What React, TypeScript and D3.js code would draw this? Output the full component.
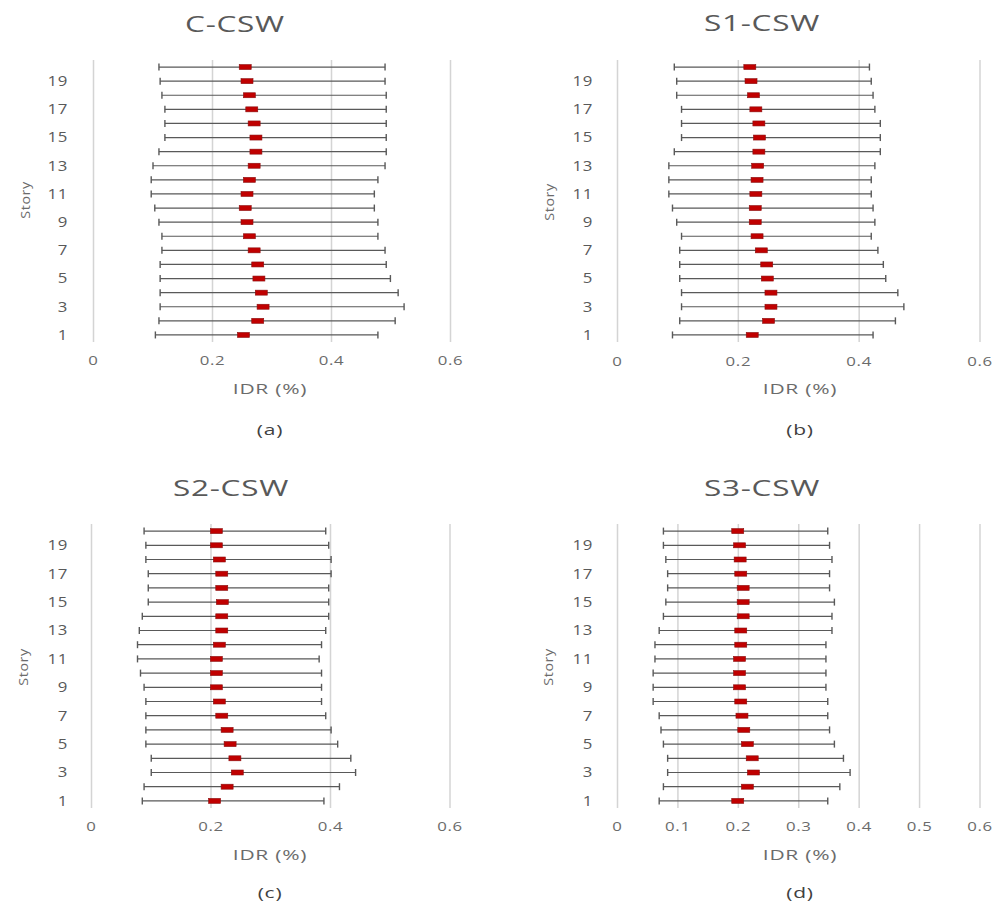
import React, { useEffect, useRef } from 'react';
import * as d3 from 'd3';

const stories = d3.range(1, 21);
const storyLabels = [1, 3, 5, 7, 9, 11, 13, 15, 17, 19];
const ticksCoarse = [0, 0.2, 0.4, 0.6];
const ticksFine = [0, 0.1, 0.2, 0.3, 0.4, 0.5, 0.6];

// values listed from story 1 up to story 20
const cMin = [0.104, 0.11, 0.112, 0.112, 0.112, 0.112, 0.115, 0.115, 0.11, 0.103, 0.097, 0.097, 0.1, 0.11, 0.12, 0.12, 0.12, 0.115, 0.112, 0.11];
const cMax = [0.478, 0.507, 0.522, 0.512, 0.499, 0.492, 0.49, 0.478, 0.478, 0.472, 0.472, 0.478, 0.49, 0.492, 0.492, 0.492, 0.492, 0.492, 0.49, 0.49];
const cMean = [0.252, 0.276, 0.285, 0.282, 0.278, 0.276, 0.27, 0.262, 0.258, 0.255, 0.258, 0.262, 0.27, 0.273, 0.273, 0.27, 0.266, 0.262, 0.258, 0.255];

const s1Min = [0.091, 0.103, 0.106, 0.106, 0.103, 0.103, 0.103, 0.106, 0.098, 0.091, 0.085, 0.085, 0.085, 0.094, 0.106, 0.106, 0.106, 0.098, 0.098, 0.094];
const s1Max = [0.423, 0.46, 0.474, 0.464, 0.444, 0.44, 0.431, 0.42, 0.426, 0.423, 0.42, 0.42, 0.426, 0.435, 0.435, 0.435, 0.426, 0.423, 0.42, 0.417];
const s1Mean = [0.223, 0.25, 0.254, 0.254, 0.248, 0.247, 0.238, 0.231, 0.228, 0.228, 0.229, 0.231, 0.232, 0.234, 0.235, 0.234, 0.229, 0.225, 0.221, 0.219];

const s2Min = [0.085, 0.088, 0.1, 0.1, 0.091, 0.091, 0.091, 0.091, 0.088, 0.082, 0.077, 0.077, 0.08, 0.085, 0.095, 0.095, 0.095, 0.091, 0.091, 0.088];
const s2Max = [0.389, 0.415, 0.442, 0.434, 0.412, 0.401, 0.392, 0.385, 0.385, 0.385, 0.381, 0.385, 0.392, 0.397, 0.397, 0.397, 0.401, 0.401, 0.397, 0.392];
const s2Mean = [0.206, 0.227, 0.244, 0.24, 0.232, 0.227, 0.218, 0.214, 0.209, 0.209, 0.209, 0.214, 0.218, 0.218, 0.219, 0.218, 0.218, 0.214, 0.209, 0.209];

const s3Min = [0.069, 0.076, 0.083, 0.083, 0.076, 0.072, 0.069, 0.059, 0.059, 0.059, 0.062, 0.062, 0.069, 0.076, 0.08, 0.083, 0.083, 0.08, 0.076, 0.076];
const s3Max = [0.348, 0.368, 0.385, 0.374, 0.359, 0.351, 0.348, 0.348, 0.345, 0.345, 0.345, 0.345, 0.355, 0.355, 0.359, 0.351, 0.351, 0.355, 0.351, 0.348];
const s3Mean = [0.199, 0.215, 0.225, 0.223, 0.215, 0.209, 0.206, 0.204, 0.202, 0.202, 0.202, 0.204, 0.204, 0.208, 0.208, 0.208, 0.204, 0.203, 0.202, 0.199];

const panels = [
  { title: 'C-CSW', tag: '(a)', min: cMin, max: cMax, mean: cMean, ticks: ticksCoarse,
    x0: 93.5, x1: 450.5, top: 60, bottom: 342, titleX: 235, titleY: 25, labX: 270, storyX: 25, storyY: 200, tickY: 361, idrY: 389, tagY: 430, yLabX: 68 },
  { title: 'S1-CSW', tag: '(b)', min: s1Min, max: s1Max, mean: s1Mean, ticks: ticksCoarse,
    x0: 617.5, x1: 980, top: 60, bottom: 342, titleX: 762, titleY: 24, labX: 800, storyX: 549, storyY: 202, tickY: 362, idrY: 389, tagY: 430, yLabX: 593 },
  { title: 'S2-CSW', tag: '(c)', min: s2Min, max: s2Max, mean: s2Mean, ticks: ticksCoarse,
    x0: 91.5, x1: 450, top: 524, bottom: 808, titleX: 231, titleY: 489, labX: 270, storyX: 23, storyY: 667, tickY: 827, idrY: 855, tagY: 893, yLabX: 68 },
  { title: 'S3-CSW', tag: '(d)', min: s3Min, max: s3Max, mean: s3Mean, ticks: ticksFine,
    x0: 617.5, x1: 980, top: 524, bottom: 808, titleX: 762, titleY: 489, labX: 800, storyX: 548, storyY: 667, tickY: 827, idrY: 855, tagY: 893, yLabX: 593 },
];

const font = '"Open Sans", "DejaVu Sans", sans-serif';

// text placed at (x,y), stretched horizontally like the scanned figure
function label(g: any, x: number, y: number, txt: string, size: number, sx: number, color: string, anchor = 'middle', rot = 0) {
  g.append('text')
    .attr('transform', `translate(${x},${y}) rotate(${rot}) scale(${sx},1)`)
    .attr('dy', '0.35em')
    .attr('text-anchor', anchor)
    .style('font-family', font)
    .style('font-size', `${size}px`)
    .style('letter-spacing', '0.5px')
    .style('fill', color)
    .text(txt);
}

export default function App() {
  const ref = useRef<SVGSVGElement>(null);

  useEffect(() => {
    const svg = d3.select(ref.current);
    svg.selectAll('*').remove();

    panels.forEach((p) => {
      const g = svg.append('g');
      const x = d3.scaleLinear().domain([0, 0.6]).range([p.x0, p.x1]);
      const y = d3.scaleBand<number>()
        .domain(stories.slice().reverse())
        .range([p.top, p.bottom]);
      const cy = (s: number) => (y(s) as number) + y.bandwidth() / 2;

      // vertical gridlines
      g.selectAll('.grid')
        .data(p.ticks)
        .enter().append('line')
        .attr('x1', (d) => x(d)).attr('x2', (d) => x(d))
        .attr('y1', p.top).attr('y2', p.bottom)
        .attr('stroke', '#d4d4d4')
        .attr('stroke-width', 1.5);

      p.ticks.forEach((t) => {
        label(g, x(t), p.tickY, t === 0 ? '0' : d3.format('.1f')(t), 12, 1.4, '#6b6b6b');
      });

      storyLabels.forEach((s) => {
        label(g, p.yLabX, cy(s), String(s), 14, 1.2, '#595959', 'end');
      });

      // whiskers
      const rows = stories.map((s, i) => ({ s, lo: p.min[i], hi: p.max[i], m: p.mean[i] }));
      const row = g.selectAll('.row')
        .data(rows)
        .enter().append('g');

      row.append('line')
        .attr('x1', (d) => x(d.lo)).attr('x2', (d) => x(d.hi))
        .attr('y1', (d) => cy(d.s)).attr('y2', (d) => cy(d.s))
        .attr('stroke', '#595959')
        .attr('stroke-width', 1.2);
      row.append('line')
        .attr('x1', (d) => x(d.lo)).attr('x2', (d) => x(d.lo))
        .attr('y1', (d) => cy(d.s) - 3.5).attr('y2', (d) => cy(d.s) + 3.5)
        .attr('stroke', '#595959')
        .attr('stroke-width', 1.4);
      row.append('line')
        .attr('x1', (d) => x(d.hi)).attr('x2', (d) => x(d.hi))
        .attr('y1', (d) => cy(d.s) - 3.5).attr('y2', (d) => cy(d.s) + 3.5)
        .attr('stroke', '#595959')
        .attr('stroke-width', 1.4);

      row.append('rect')
        .attr('x', (d) => x(d.m) - 6)
        .attr('y', (d) => cy(d.s) - 2.5)
        .attr('width', 12)
        .attr('height', 5)
        .attr('fill', '#c00000')
        .attr('stroke', '#8a0f0f')
        .attr('stroke-width', 0.6);

      label(g, p.titleX, p.titleY, p.title, 21, 1.5, '#595959');
      label(g, p.labX, p.idrY, 'IDR (%)', 14, 1.5, '#6b6b6b');
      label(g, p.storyX, p.storyY, 'Story', 13, 1.1, '#6b6b6b', 'middle', -90);
      label(g, p.labX, p.tagY, p.tag, 14, 1.5, '#404040');
    });
  }, []);

  return (
    <svg
      ref={ref}
      width={1006}
      height={906}
      style={{ position: 'absolute', left: 0, top: 0, background: '#fff' }}
    />
  );
}
